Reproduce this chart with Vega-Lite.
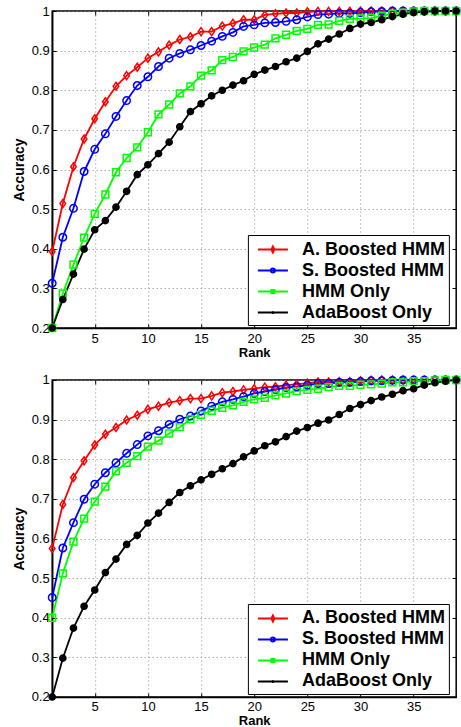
{
"$schema":"https://vega.github.io/schema/vega-lite/v6.json",
"padding":{"left":11.2,"top":3,"right":4,"bottom":0},
"background":"white",
"spacing":12,
"config":{
 "view":{"stroke":"#000","strokeWidth":1.5},
 "font":"Liberation Sans",
 "axis":{"labelFont":"Liberation Sans","labelFontSize":13,"labelColor":"#000","titleFont":"Liberation Sans","titleFontWeight":"bold","titleColor":"#000","domainColor":"#000","domainWidth":1.5,"tickColor":"#000","tickWidth":1,"tickSize":-4,"gridColor":"#888","gridDash":[1,3],"gridOpacity":1,"gridWidth":1},
 "legend":{"labelFont":"Liberation Sans","labelFontSize":18,"labelFontWeight":"bold","labelColor":"#000","title":null,"orient":"none","legendX":195.7,"legendY":224,"strokeColor":"#000","fillColor":"#fff","padding":3,"symbolSize":441,"symbolStrokeWidth":1.8,"symbolOffset":10.5,"labelOffset":17.7,"rowPadding":0}
},
"datasets":{
"top":[
{"s":"A. Boosted HMM","r":1,"a":0.393},{"s":"A. Boosted HMM","r":2,"a":0.514},{"s":"A. Boosted HMM","r":3,"a":0.607},{"s":"A. Boosted HMM","r":4,"a":0.677},{"s":"A. Boosted HMM","r":5,"a":0.728},{"s":"A. Boosted HMM","r":6,"a":0.771},{"s":"A. Boosted HMM","r":7,"a":0.81},{"s":"A. Boosted HMM","r":8,"a":0.837},{"s":"A. Boosted HMM","r":9,"a":0.858},{"s":"A. Boosted HMM","r":10,"a":0.881},{"s":"A. Boosted HMM","r":11,"a":0.897},{"s":"A. Boosted HMM","r":12,"a":0.914},{"s":"A. Boosted HMM","r":13,"a":0.928},{"s":"A. Boosted HMM","r":14,"a":0.935},{"s":"A. Boosted HMM","r":15,"a":0.948},{"s":"A. Boosted HMM","r":16,"a":0.948},{"s":"A. Boosted HMM","r":17,"a":0.962},{"s":"A. Boosted HMM","r":18,"a":0.969},{"s":"A. Boosted HMM","r":19,"a":0.978},{"s":"A. Boosted HMM","r":20,"a":0.978},{"s":"A. Boosted HMM","r":21,"a":0.99},{"s":"A. Boosted HMM","r":22,"a":0.993},{"s":"A. Boosted HMM","r":23,"a":0.995},{"s":"A. Boosted HMM","r":24,"a":0.995},{"s":"A. Boosted HMM","r":25,"a":0.998},{"s":"A. Boosted HMM","r":26,"a":0.999},{"s":"A. Boosted HMM","r":27,"a":0.999},{"s":"A. Boosted HMM","r":28,"a":0.999},{"s":"A. Boosted HMM","r":29,"a":0.999},{"s":"A. Boosted HMM","r":30,"a":1},{"s":"A. Boosted HMM","r":31,"a":1},{"s":"A. Boosted HMM","r":32,"a":1},{"s":"A. Boosted HMM","r":33,"a":1},{"s":"A. Boosted HMM","r":34,"a":1},{"s":"A. Boosted HMM","r":35,"a":1},{"s":"A. Boosted HMM","r":36,"a":1},{"s":"A. Boosted HMM","r":37,"a":1},{"s":"A. Boosted HMM","r":38,"a":1},{"s":"A. Boosted HMM","r":39,"a":1},
{"s":"S. Boosted HMM","r":1,"a":0.313},{"s":"S. Boosted HMM","r":2,"a":0.429},{"s":"S. Boosted HMM","r":3,"a":0.502},{"s":"S. Boosted HMM","r":4,"a":0.595},{"s":"S. Boosted HMM","r":5,"a":0.651},{"s":"S. Boosted HMM","r":6,"a":0.69},{"s":"S. Boosted HMM","r":7,"a":0.734},{"s":"S. Boosted HMM","r":8,"a":0.774},{"s":"S. Boosted HMM","r":9,"a":0.812},{"s":"S. Boosted HMM","r":10,"a":0.834},{"s":"S. Boosted HMM","r":11,"a":0.86},{"s":"S. Boosted HMM","r":12,"a":0.881},{"s":"S. Boosted HMM","r":13,"a":0.893},{"s":"S. Boosted HMM","r":14,"a":0.902},{"s":"S. Boosted HMM","r":15,"a":0.913},{"s":"S. Boosted HMM","r":16,"a":0.924},{"s":"S. Boosted HMM","r":17,"a":0.936},{"s":"S. Boosted HMM","r":18,"a":0.946},{"s":"S. Boosted HMM","r":19,"a":0.961},{"s":"S. Boosted HMM","r":20,"a":0.965},{"s":"S. Boosted HMM","r":21,"a":0.97},{"s":"S. Boosted HMM","r":22,"a":0.971},{"s":"S. Boosted HMM","r":23,"a":0.974},{"s":"S. Boosted HMM","r":24,"a":0.978},{"s":"S. Boosted HMM","r":25,"a":0.985},{"s":"S. Boosted HMM","r":26,"a":0.991},{"s":"S. Boosted HMM","r":27,"a":0.992},{"s":"S. Boosted HMM","r":28,"a":0.994},{"s":"S. Boosted HMM","r":29,"a":0.994},{"s":"S. Boosted HMM","r":30,"a":0.996},{"s":"S. Boosted HMM","r":31,"a":0.998},{"s":"S. Boosted HMM","r":32,"a":0.999},{"s":"S. Boosted HMM","r":33,"a":1},{"s":"S. Boosted HMM","r":34,"a":1},{"s":"S. Boosted HMM","r":35,"a":1},{"s":"S. Boosted HMM","r":36,"a":1},{"s":"S. Boosted HMM","r":37,"a":1},{"s":"S. Boosted HMM","r":38,"a":1},{"s":"S. Boosted HMM","r":39,"a":1},
{"s":"HMM Only","r":1,"a":0.2},{"s":"HMM Only","r":2,"a":0.287},{"s":"HMM Only","r":3,"a":0.36},{"s":"HMM Only","r":4,"a":0.428},{"s":"HMM Only","r":5,"a":0.488},{"s":"HMM Only","r":6,"a":0.537},{"s":"HMM Only","r":7,"a":0.593},{"s":"HMM Only","r":8,"a":0.629},{"s":"HMM Only","r":9,"a":0.656},{"s":"HMM Only","r":10,"a":0.694},{"s":"HMM Only","r":11,"a":0.739},{"s":"HMM Only","r":12,"a":0.764},{"s":"HMM Only","r":13,"a":0.792},{"s":"HMM Only","r":14,"a":0.81},{"s":"HMM Only","r":15,"a":0.837},{"s":"HMM Only","r":16,"a":0.85},{"s":"HMM Only","r":17,"a":0.876},{"s":"HMM Only","r":18,"a":0.884},{"s":"HMM Only","r":19,"a":0.898},{"s":"HMM Only","r":20,"a":0.908},{"s":"HMM Only","r":21,"a":0.915},{"s":"HMM Only","r":22,"a":0.931},{"s":"HMM Only","r":23,"a":0.94},{"s":"HMM Only","r":24,"a":0.95},{"s":"HMM Only","r":25,"a":0.955},{"s":"HMM Only","r":26,"a":0.965},{"s":"HMM Only","r":27,"a":0.966},{"s":"HMM Only","r":28,"a":0.975},{"s":"HMM Only","r":29,"a":0.98},{"s":"HMM Only","r":30,"a":0.981},{"s":"HMM Only","r":31,"a":0.982},{"s":"HMM Only","r":32,"a":0.988},{"s":"HMM Only","r":33,"a":0.993},{"s":"HMM Only","r":34,"a":0.996},{"s":"HMM Only","r":35,"a":0.999},{"s":"HMM Only","r":36,"a":1},{"s":"HMM Only","r":37,"a":1},{"s":"HMM Only","r":38,"a":1},{"s":"HMM Only","r":39,"a":1},
{"s":"AdaBoost Only","r":1,"a":0.2},{"s":"AdaBoost Only","r":2,"a":0.272},{"s":"AdaBoost Only","r":3,"a":0.336},{"s":"AdaBoost Only","r":4,"a":0.399},{"s":"AdaBoost Only","r":5,"a":0.448},{"s":"AdaBoost Only","r":6,"a":0.471},{"s":"AdaBoost Only","r":7,"a":0.505},{"s":"AdaBoost Only","r":8,"a":0.545},{"s":"AdaBoost Only","r":9,"a":0.587},{"s":"AdaBoost Only","r":10,"a":0.612},{"s":"AdaBoost Only","r":11,"a":0.64},{"s":"AdaBoost Only","r":12,"a":0.669},{"s":"AdaBoost Only","r":13,"a":0.708},{"s":"AdaBoost Only","r":14,"a":0.746},{"s":"AdaBoost Only","r":15,"a":0.766},{"s":"AdaBoost Only","r":16,"a":0.786},{"s":"AdaBoost Only","r":17,"a":0.8},{"s":"AdaBoost Only","r":18,"a":0.813},{"s":"AdaBoost Only","r":19,"a":0.824},{"s":"AdaBoost Only","r":20,"a":0.84},{"s":"AdaBoost Only","r":21,"a":0.851},{"s":"AdaBoost Only","r":22,"a":0.86},{"s":"AdaBoost Only","r":23,"a":0.872},{"s":"AdaBoost Only","r":24,"a":0.881},{"s":"AdaBoost Only","r":25,"a":0.898},{"s":"AdaBoost Only","r":26,"a":0.917},{"s":"AdaBoost Only","r":27,"a":0.929},{"s":"AdaBoost Only","r":28,"a":0.942},{"s":"AdaBoost Only","r":29,"a":0.956},{"s":"AdaBoost Only","r":30,"a":0.967},{"s":"AdaBoost Only","r":31,"a":0.971},{"s":"AdaBoost Only","r":32,"a":0.978},{"s":"AdaBoost Only","r":33,"a":0.986},{"s":"AdaBoost Only","r":34,"a":0.992},{"s":"AdaBoost Only","r":35,"a":0.996},{"s":"AdaBoost Only","r":36,"a":0.998},{"s":"AdaBoost Only","r":37,"a":1},{"s":"AdaBoost Only","r":38,"a":1},{"s":"AdaBoost Only","r":39,"a":1}
],
"bottom":[
{"s":"A. Boosted HMM","r":1,"a":0.575},{"s":"A. Boosted HMM","r":2,"a":0.686},{"s":"A. Boosted HMM","r":3,"a":0.754},{"s":"A. Boosted HMM","r":4,"a":0.796},{"s":"A. Boosted HMM","r":5,"a":0.836},{"s":"A. Boosted HMM","r":6,"a":0.863},{"s":"A. Boosted HMM","r":7,"a":0.88},{"s":"A. Boosted HMM","r":8,"a":0.899},{"s":"A. Boosted HMM","r":9,"a":0.911},{"s":"A. Boosted HMM","r":10,"a":0.926},{"s":"A. Boosted HMM","r":11,"a":0.934},{"s":"A. Boosted HMM","r":12,"a":0.943},{"s":"A. Boosted HMM","r":13,"a":0.948},{"s":"A. Boosted HMM","r":14,"a":0.953},{"s":"A. Boosted HMM","r":15,"a":0.953},{"s":"A. Boosted HMM","r":16,"a":0.96},{"s":"A. Boosted HMM","r":17,"a":0.968},{"s":"A. Boosted HMM","r":18,"a":0.971},{"s":"A. Boosted HMM","r":19,"a":0.975},{"s":"A. Boosted HMM","r":20,"a":0.978},{"s":"A. Boosted HMM","r":21,"a":0.982},{"s":"A. Boosted HMM","r":22,"a":0.983},{"s":"A. Boosted HMM","r":23,"a":0.987},{"s":"A. Boosted HMM","r":24,"a":0.989},{"s":"A. Boosted HMM","r":25,"a":0.992},{"s":"A. Boosted HMM","r":26,"a":0.995},{"s":"A. Boosted HMM","r":27,"a":0.995},{"s":"A. Boosted HMM","r":28,"a":0.996},{"s":"A. Boosted HMM","r":29,"a":0.996},{"s":"A. Boosted HMM","r":30,"a":0.998},{"s":"A. Boosted HMM","r":31,"a":0.999},{"s":"A. Boosted HMM","r":32,"a":1},{"s":"A. Boosted HMM","r":33,"a":1},{"s":"A. Boosted HMM","r":34,"a":1},{"s":"A. Boosted HMM","r":35,"a":1},{"s":"A. Boosted HMM","r":36,"a":1},{"s":"A. Boosted HMM","r":37,"a":1},{"s":"A. Boosted HMM","r":38,"a":1},{"s":"A. Boosted HMM","r":39,"a":1},
{"s":"S. Boosted HMM","r":1,"a":0.451},{"s":"S. Boosted HMM","r":2,"a":0.576},{"s":"S. Boosted HMM","r":3,"a":0.64},{"s":"S. Boosted HMM","r":4,"a":0.699},{"s":"S. Boosted HMM","r":5,"a":0.737},{"s":"S. Boosted HMM","r":6,"a":0.766},{"s":"S. Boosted HMM","r":7,"a":0.791},{"s":"S. Boosted HMM","r":8,"a":0.815},{"s":"S. Boosted HMM","r":9,"a":0.837},{"s":"S. Boosted HMM","r":10,"a":0.859},{"s":"S. Boosted HMM","r":11,"a":0.872},{"s":"S. Boosted HMM","r":12,"a":0.888},{"s":"S. Boosted HMM","r":13,"a":0.901},{"s":"S. Boosted HMM","r":14,"a":0.909},{"s":"S. Boosted HMM","r":15,"a":0.922},{"s":"S. Boosted HMM","r":16,"a":0.934},{"s":"S. Boosted HMM","r":17,"a":0.945},{"s":"S. Boosted HMM","r":18,"a":0.951},{"s":"S. Boosted HMM","r":19,"a":0.958},{"s":"S. Boosted HMM","r":20,"a":0.966},{"s":"S. Boosted HMM","r":21,"a":0.971},{"s":"S. Boosted HMM","r":22,"a":0.976},{"s":"S. Boosted HMM","r":23,"a":0.981},{"s":"S. Boosted HMM","r":24,"a":0.983},{"s":"S. Boosted HMM","r":25,"a":0.987},{"s":"S. Boosted HMM","r":26,"a":0.991},{"s":"S. Boosted HMM","r":27,"a":0.991},{"s":"S. Boosted HMM","r":28,"a":0.994},{"s":"S. Boosted HMM","r":29,"a":0.994},{"s":"S. Boosted HMM","r":30,"a":0.996},{"s":"S. Boosted HMM","r":31,"a":0.998},{"s":"S. Boosted HMM","r":32,"a":0.998},{"s":"S. Boosted HMM","r":33,"a":0.999},{"s":"S. Boosted HMM","r":34,"a":1},{"s":"S. Boosted HMM","r":35,"a":1},{"s":"S. Boosted HMM","r":36,"a":1},{"s":"S. Boosted HMM","r":37,"a":1},{"s":"S. Boosted HMM","r":38,"a":1},{"s":"S. Boosted HMM","r":39,"a":1},
{"s":"HMM Only","r":1,"a":0.4},{"s":"HMM Only","r":2,"a":0.512},{"s":"HMM Only","r":3,"a":0.592},{"s":"HMM Only","r":4,"a":0.65},{"s":"HMM Only","r":5,"a":0.693},{"s":"HMM Only","r":6,"a":0.731},{"s":"HMM Only","r":7,"a":0.77},{"s":"HMM Only","r":8,"a":0.791},{"s":"HMM Only","r":9,"a":0.808},{"s":"HMM Only","r":10,"a":0.832},{"s":"HMM Only","r":11,"a":0.847},{"s":"HMM Only","r":12,"a":0.865},{"s":"HMM Only","r":13,"a":0.881},{"s":"HMM Only","r":14,"a":0.901},{"s":"HMM Only","r":15,"a":0.912},{"s":"HMM Only","r":16,"a":0.922},{"s":"HMM Only","r":17,"a":0.93},{"s":"HMM Only","r":18,"a":0.936},{"s":"HMM Only","r":19,"a":0.945},{"s":"HMM Only","r":20,"a":0.951},{"s":"HMM Only","r":21,"a":0.955},{"s":"HMM Only","r":22,"a":0.961},{"s":"HMM Only","r":23,"a":0.966},{"s":"HMM Only","r":24,"a":0.972},{"s":"HMM Only","r":25,"a":0.975},{"s":"HMM Only","r":26,"a":0.978},{"s":"HMM Only","r":27,"a":0.982},{"s":"HMM Only","r":28,"a":0.985},{"s":"HMM Only","r":29,"a":0.985},{"s":"HMM Only","r":30,"a":0.988},{"s":"HMM Only","r":31,"a":0.989},{"s":"HMM Only","r":32,"a":0.991},{"s":"HMM Only","r":33,"a":0.994},{"s":"HMM Only","r":34,"a":0.994},{"s":"HMM Only","r":35,"a":0.997},{"s":"HMM Only","r":36,"a":0.997},{"s":"HMM Only","r":37,"a":0.999},{"s":"HMM Only","r":38,"a":1},{"s":"HMM Only","r":39,"a":1},
{"s":"AdaBoost Only","r":1,"a":0.2},{"s":"AdaBoost Only","r":2,"a":0.298},{"s":"AdaBoost Only","r":3,"a":0.374},{"s":"AdaBoost Only","r":4,"a":0.429},{"s":"AdaBoost Only","r":5,"a":0.47},{"s":"AdaBoost Only","r":6,"a":0.514},{"s":"AdaBoost Only","r":7,"a":0.548},{"s":"AdaBoost Only","r":8,"a":0.585},{"s":"AdaBoost Only","r":9,"a":0.608},{"s":"AdaBoost Only","r":10,"a":0.639},{"s":"AdaBoost Only","r":11,"a":0.664},{"s":"AdaBoost Only","r":12,"a":0.691},{"s":"AdaBoost Only","r":13,"a":0.716},{"s":"AdaBoost Only","r":14,"a":0.733},{"s":"AdaBoost Only","r":15,"a":0.748},{"s":"AdaBoost Only","r":16,"a":0.762},{"s":"AdaBoost Only","r":17,"a":0.776},{"s":"AdaBoost Only","r":18,"a":0.789},{"s":"AdaBoost Only","r":19,"a":0.806},{"s":"AdaBoost Only","r":20,"a":0.821},{"s":"AdaBoost Only","r":21,"a":0.834},{"s":"AdaBoost Only","r":22,"a":0.844},{"s":"AdaBoost Only","r":23,"a":0.857},{"s":"AdaBoost Only","r":24,"a":0.871},{"s":"AdaBoost Only","r":25,"a":0.88},{"s":"AdaBoost Only","r":26,"a":0.891},{"s":"AdaBoost Only","r":27,"a":0.899},{"s":"AdaBoost Only","r":28,"a":0.913},{"s":"AdaBoost Only","r":29,"a":0.928},{"s":"AdaBoost Only","r":30,"a":0.938},{"s":"AdaBoost Only","r":31,"a":0.948},{"s":"AdaBoost Only","r":32,"a":0.957},{"s":"AdaBoost Only","r":33,"a":0.964},{"s":"AdaBoost Only","r":34,"a":0.973},{"s":"AdaBoost Only","r":35,"a":0.978},{"s":"AdaBoost Only","r":36,"a":0.987},{"s":"AdaBoost Only","r":37,"a":0.993},{"s":"AdaBoost Only","r":38,"a":0.997},{"s":"AdaBoost Only","r":39,"a":1}
]
},
"vconcat":[
{
 "width":404,"height":317,
 "data":{"name":"top"},
 "resolve":{"scale":{"shape":"independent","stroke":"independent"}},
 "layer":[
  {"mark":{"type":"line","strokeWidth":1.8},
   "encoding":{
    "x":{"field":"r","type":"quantitative","scale":{"domain":[1,39],"nice":false,"zero":false},"axis":{"orient":"bottom","values":[5,10,15,20,25,30,35],"title":"Rank","titleFontSize":13,"labelPadding":8,"titlePadding":1}},
    "y":{"field":"a","type":"quantitative","scale":{"domain":[0.2,1],"nice":false,"zero":false},"axis":{"orient":"left","values":[0.2,0.3,0.4,0.5,0.6,0.7,0.8,0.9,1],"format":".1~f","title":"Accuracy","titleFontSize":14,"labelPadding":7,"titlePadding":5}},
    "color":{"field":"s","type":"nominal","scale":{"domain":["A. Boosted HMM","S. Boosted HMM","HMM Only","AdaBoost Only"],"range":["#ff0000","#0000ff","#00ff00","#000000"]},"legend":null}
   }},
  {"mark":{"type":"point","filled":true,"opacity":1,"strokeWidth":1.5},
   "encoding":{
    "x":{"field":"r","type":"quantitative","axis":{"orient":"top","labels":false,"domain":false,"grid":false,"title":null,"values":[5,10,15,20,25,30,35]}},
    "y":{"field":"a","type":"quantitative","axis":{"orient":"right","labels":false,"domain":false,"grid":false,"title":null,"values":[0.2,0.3,0.4,0.5,0.6,0.7,0.8,0.9,1]}},
    "stroke":{"field":"s","type":"nominal","scale":{"domain":["A. Boosted HMM","S. Boosted HMM","HMM Only","AdaBoost Only"],"range":["#ff0000","#0000ff","#00ff00","#000000"]},"legend":null},
    "fill":{"field":"s","type":"nominal","scale":{"domain":["A. Boosted HMM","S. Boosted HMM","HMM Only","AdaBoost Only"],"range":["transparent","transparent","transparent","#000000"]},"legend":null},
    "shape":{"field":"s","type":"nominal","scale":{"domain":["A. Boosted HMM","S. Boosted HMM","HMM Only","AdaBoost Only"],"range":["M0,-1L0.7,0L0,1L-0.7,0Z","circle","square","circle"]},"legend":null},
    "size":{"field":"s","type":"nominal","scale":{"domain":["A. Boosted HMM","S. Boosted HMM","HMM Only","AdaBoost Only"],"range":[64,38,36,9]},"legend":null}
   }},
  {"transform":[{"filter":"datum.r > 1000"}],
   "mark":{"type":"point","filled":false,"opacity":1,"strokeWidth":1.8},
   "encoding":{
    "x":{"field":"r","type":"quantitative","axis":null},
    "y":{"field":"a","type":"quantitative","axis":null},
    "stroke":{"field":"s","type":"nominal","scale":{"domain":["A. Boosted HMM","S. Boosted HMM","HMM Only","AdaBoost Only"],"range":["#ff0000","#0000ff","#00ff00","#000000"]},"legend":{}},
    "shape":{"field":"s","type":"nominal","scale":{"domain":["A. Boosted HMM","S. Boosted HMM","HMM Only","AdaBoost Only"],"range":["M-1.43,0H1.43M0,-0.3L0.15,0L0,0.3L-0.15,0Z","M-1.43,0H1.43M0.2,0A0.2,0.2,0,1,1,-0.2,0A0.2,0.2,0,1,1,0.2,0Z","M-1.43,0H1.43M-0.16,-0.16H0.16V0.16H-0.16Z","M-1.43,0H1.43M0.06,0A0.06,0.06,0,1,1,-0.06,0A0.06,0.06,0,1,1,0.06,0Z"]},"legend":{}}
   }}
 ]
},
{
 "width":404,"height":317,
 "data":{"name":"bottom"},
 "resolve":{"scale":{"shape":"independent","stroke":"independent"}},
 "layer":[
  {"mark":{"type":"line","strokeWidth":1.8},
   "encoding":{
    "x":{"field":"r","type":"quantitative","scale":{"domain":[1,39],"nice":false,"zero":false},"axis":{"orient":"bottom","values":[5,10,15,20,25,30,35],"title":"Rank","titleFontSize":13,"labelPadding":8,"titlePadding":1}},
    "y":{"field":"a","type":"quantitative","scale":{"domain":[0.2,1],"nice":false,"zero":false},"axis":{"orient":"left","values":[0.2,0.3,0.4,0.5,0.6,0.7,0.8,0.9,1],"format":".1~f","title":"Accuracy","titleFontSize":14,"labelPadding":7,"titlePadding":5}},
    "color":{"field":"s","type":"nominal","scale":{"domain":["A. Boosted HMM","S. Boosted HMM","HMM Only","AdaBoost Only"],"range":["#ff0000","#0000ff","#00ff00","#000000"]},"legend":null}
   }},
  {"mark":{"type":"point","filled":true,"opacity":1,"strokeWidth":1.5},
   "encoding":{
    "x":{"field":"r","type":"quantitative","axis":{"orient":"top","labels":false,"domain":false,"grid":false,"title":null,"values":[5,10,15,20,25,30,35]}},
    "y":{"field":"a","type":"quantitative","axis":{"orient":"right","labels":false,"domain":false,"grid":false,"title":null,"values":[0.2,0.3,0.4,0.5,0.6,0.7,0.8,0.9,1]}},
    "stroke":{"field":"s","type":"nominal","scale":{"domain":["A. Boosted HMM","S. Boosted HMM","HMM Only","AdaBoost Only"],"range":["#ff0000","#0000ff","#00ff00","#000000"]},"legend":null},
    "fill":{"field":"s","type":"nominal","scale":{"domain":["A. Boosted HMM","S. Boosted HMM","HMM Only","AdaBoost Only"],"range":["transparent","transparent","transparent","#000000"]},"legend":null},
    "shape":{"field":"s","type":"nominal","scale":{"domain":["A. Boosted HMM","S. Boosted HMM","HMM Only","AdaBoost Only"],"range":["M0,-1L0.7,0L0,1L-0.7,0Z","circle","square","circle"]},"legend":null},
    "size":{"field":"s","type":"nominal","scale":{"domain":["A. Boosted HMM","S. Boosted HMM","HMM Only","AdaBoost Only"],"range":[64,38,36,9]},"legend":null}
   }},
  {"transform":[{"filter":"datum.r > 1000"}],
   "mark":{"type":"point","filled":false,"opacity":1,"strokeWidth":1.8},
   "encoding":{
    "x":{"field":"r","type":"quantitative","axis":null},
    "y":{"field":"a","type":"quantitative","axis":null},
    "stroke":{"field":"s","type":"nominal","scale":{"domain":["A. Boosted HMM","S. Boosted HMM","HMM Only","AdaBoost Only"],"range":["#ff0000","#0000ff","#00ff00","#000000"]},"legend":{}},
    "shape":{"field":"s","type":"nominal","scale":{"domain":["A. Boosted HMM","S. Boosted HMM","HMM Only","AdaBoost Only"],"range":["M-1.43,0H1.43M0,-0.3L0.15,0L0,0.3L-0.15,0Z","M-1.43,0H1.43M0.2,0A0.2,0.2,0,1,1,-0.2,0A0.2,0.2,0,1,1,0.2,0Z","M-1.43,0H1.43M-0.16,-0.16H0.16V0.16H-0.16Z","M-1.43,0H1.43M0.06,0A0.06,0.06,0,1,1,-0.06,0A0.06,0.06,0,1,1,0.06,0Z"]},"legend":{}}
   }}
 ]
}
]
}
